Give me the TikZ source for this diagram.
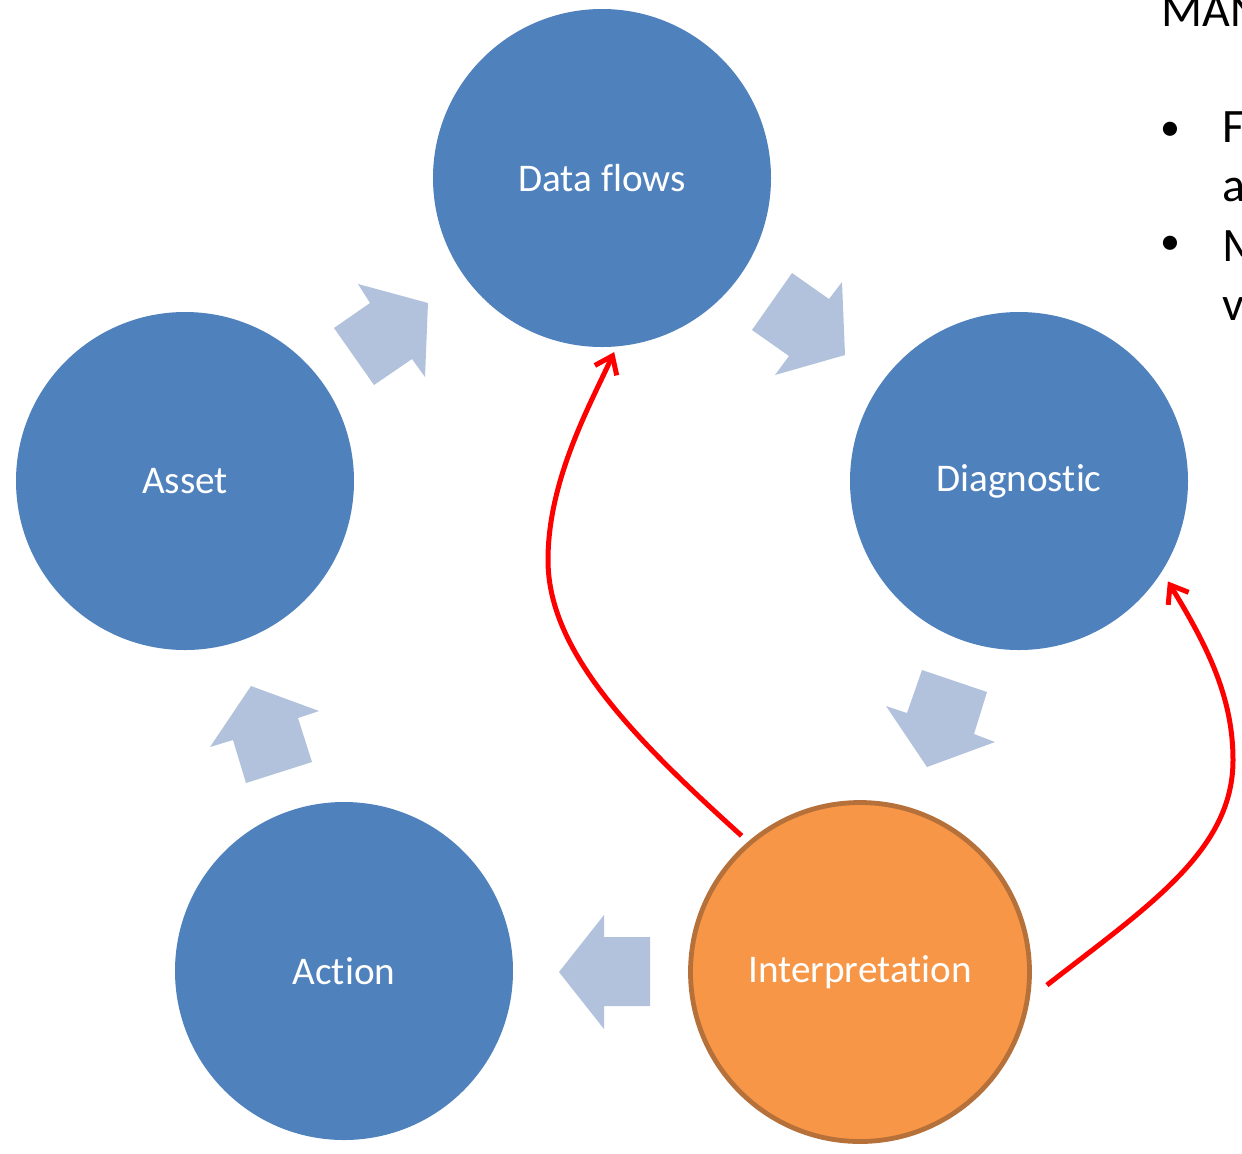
\documentclass[tikz,border=0pt]{standalone}
\usepackage{fontspec}
\setmainfont{Carlito}[Ligatures=NoCommon]
\usetikzlibrary{arrows.meta,calc}
\definecolor{cblue}{HTML}{4F81BD}
\definecolor{corange}{HTML}{F79646}
\definecolor{cborder}{HTML}{B6703A}
\definecolor{carrow}{RGB}{178,194,221}
\definecolor{cred}{HTML}{FF0000}
\begin{document}
\begin{tikzpicture}[x=0.5pt,y=-0.5pt,
  stage/.style={circle,fill=cblue,minimum size=169pt,inner sep=0pt,text=white,font=\fontsize{19.6}{23}\selectfont},
  hot/.style={circle,fill=corange,draw=cborder,line width=2.4pt,minimum size=169.5pt,inner sep=0pt,text=white,font=\fontsize{19.6}{23}\selectfont},
  cyclearrow/.style={fill=carrow},
  link/.style={draw=cred,line width=2.5pt,-{Straight Barb[length=8pt,width=12pt,line width=2.5pt]}},
  side/.style={anchor=base west,inner sep=0pt,text=black,font=\fontsize{24}{29}\selectfont}]
\clip (0,0) rectangle (1242,1153);
\fill[white] (0,0) rectangle (1242,1153);

% circles
\node[stage] (DF) at (602,178) {Data flows};
\node[stage] (DG) at (1019,481) {Diagnostic};
\node[stage] (AS) at (185,481) {Asset};
\node[stage] (AC) at (344,971) {Action};
\node[hot]   (IN) at (860,972) {Interpretation};

% cycle block arrows
\fill[cyclearrow] (358,284) -- (428,303) -- (425,377) -- (412,359) -- (374,385) -- (334,328) -- (370,303) -- cycle;
\fill[cyclearrow] (792,273) -- (829,299) -- (842,282) -- (845,355) -- (775,375) -- (789,356) -- (752,330) -- cycle;
\fill[cyclearrow] (922,670) -- (987,692) -- (974,734) -- (995,742) -- (927,767) -- (886,706) -- (907,713) -- cycle;
\fill[cyclearrow] (604,915) -- (604,937) -- (650,937) -- (650,1006) -- (604,1006) -- (604,1029) -- (559,972) -- cycle;
\fill[cyclearrow] (251,686) -- (319,711) -- (298,718) -- (312,762) -- (246,783) -- (233,740) -- (210,747) -- cycle;

% red feedback connectors
\coordinate (s1) at ($(IN.center)!1.05!(IN.131.4)$);
\coordinate (e1) at ($(DF.center)!1.03!(DF.-86)$);
\coordinate (s2) at ($(IN.center)!1.09!(IN.-4.9)$);
\coordinate (e2) at ($(DG.center)!1.06!(DG.-34.3)$);
\draw[link] (s1) .. controls (630,735) and (548,650) .. (548,560)
                 .. controls (548,480) and (590,405) .. (e1);
\draw[link] (s2) .. controls (1150,905) and (1233,850) .. (1233,760)
                 .. controls (1233,700) and (1210,650) .. (e2);

% side text (cut at the edge, as in the reference)
\node[side] (t0) at (1161,26) {MAN};
\node[side,font=\fontsize{20}{24}\selectfont] (b1) at (1160,140) {•};
\node[side] (t1) at (1222,142) {F};
\node[side] (t2) at (1222,201) {a};
\node[side,font=\fontsize{20}{24}\selectfont] (b2) at (1160,254) {•};
\node[side] (t3) at (1222,261) {M};
\node[side] (t4) at (1222,320) {v};
\end{tikzpicture}
\end{document}
